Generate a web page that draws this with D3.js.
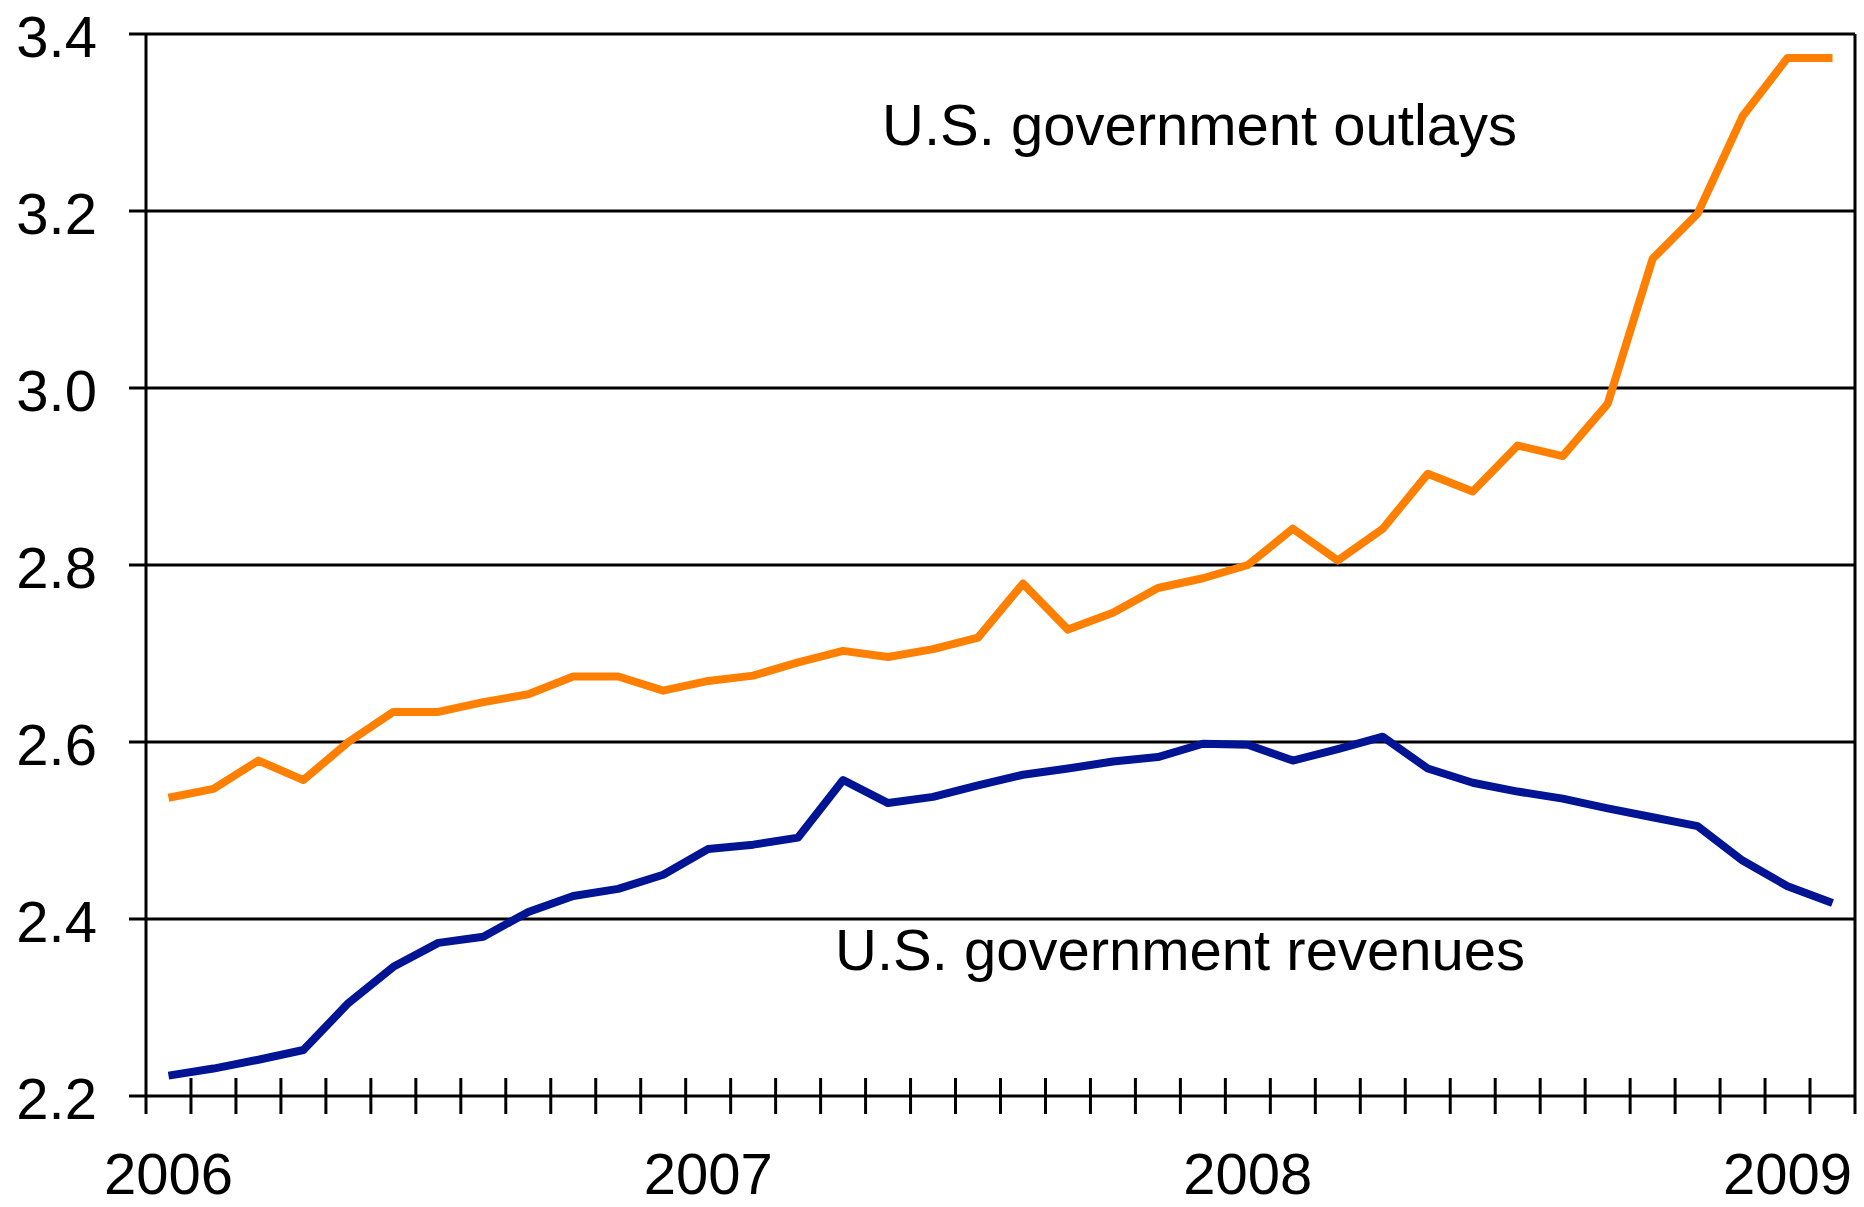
<!DOCTYPE html>
<html lang="en">
<head>
<meta charset="UTF-8">
<title>U.S. government outlays and revenues</title>
<script src="https://d3js.org/d3.v7.min.js"></script>
<style>
  body { margin: 0; background: #fff; }
  text { font-family: "Liberation Sans", Arial, sans-serif; fill: #000; }
</style>
</head>
<body>
<script>
// monthly values, Jan 2006 .. Feb 2009 (trillions of dollars)
var months = d3.range(38).map(function(i){ return new Date(2006, i, 1); });

var outlays = [2.537, 2.547, 2.579, 2.557, 2.600, 2.634, 2.634, 2.645, 2.654, 2.674,
               2.674, 2.658, 2.669, 2.675, 2.690, 2.703, 2.696, 2.705, 2.718, 2.779,
               2.727, 2.746, 2.774, 2.785, 2.800, 2.841, 2.805, 2.841, 2.903, 2.883,
               2.935, 2.923, 2.982, 3.146, 3.197, 3.307, 3.373, 3.373];

var revenues = [2.223, 2.231, 2.241, 2.252, 2.305, 2.346, 2.373, 2.380, 2.408, 2.426,
                2.434, 2.450, 2.479, 2.484, 2.492, 2.557, 2.531, 2.538, 2.551, 2.563,
                2.570, 2.578, 2.583, 2.598, 2.597, 2.579, 2.592, 2.606, 2.570, 2.554,
                2.544, 2.536, 2.525, 2.515, 2.505, 2.466, 2.437, 2.418];

var yTicks = [2.2, 2.4, 2.6, 2.8, 3.0, 3.2, 3.4];
var yearLabels = ["2006", "2007", "2008", "2009"];

var W = 1864, H = 1207;
var plotL = 146, plotR = 1855, plotT = 34, plotB = 1096;

var svg = d3.select("body").append("svg")
	.attr("width", W).attr("height", H);

// index scale: one slot per month, ticks on the slot edges
var xi = d3.scaleLinear().domain([0, months.length]).range([plotL, plotR]);
var y = d3.scaleLinear().domain([2.2, 3.4]).range([plotB, plotT]);

// horizontal grid lines (and the base line) with a short outward tick
svg.append("g").selectAll("line").data(yTicks).enter()
	.append("line")
	.attr("x1", plotL - 17).attr("x2", plotR)
	.attr("y1", function(d){ return y(d); })
	.attr("y2", function(d){ return y(d); })
	.style("stroke", "#000").style("stroke-width", 3);

// y labels
svg.append("g").selectAll("text").data(yTicks).enter()
	.append("text")
	.attr("x", 97)
	.attr("y", function(d){ return y(d) + 23; })
	.attr("text-anchor", "end")
	.attr("font-size", "58px")
	.text(function(d){ return d.toFixed(1); });

// frame sides
[0, months.length].forEach(function(i){
	svg.append("line")
		.attr("x1", xi(i)).attr("x2", xi(i))
		.attr("y1", plotT).attr("y2", plotB + 18)
		.style("stroke", "#000").style("stroke-width", 3);
});

// month ticks crossing the base line
svg.append("g").selectAll("line").data(d3.range(1, months.length)).enter()
	.append("line")
	.attr("x1", function(d){ return xi(d); })
	.attr("x2", function(d){ return xi(d); })
	.attr("y1", plotB - 18).attr("y2", plotB + 18)
	.style("stroke", "#000").style("stroke-width", 3);

// year labels at the centre of each January slot
svg.append("g").selectAll("text").data(yearLabels).enter()
	.append("text")
	.attr("x", function(d, i){ return xi(i * 12 + 0.5); })
	.attr("y", 1194)
	.attr("text-anchor", "middle")
	.attr("font-size", "58px")
	.text(function(d){ return d; });

var line = d3.line()
	.x(function(d, i){ return xi(i + 0.5); })
	.y(function(d){ return y(d); });

svg.append("path").datum(outlays)
	.attr("d", line)
	.style("fill", "none")
	.style("stroke", "#ff7f00")
	.style("stroke-width", 8)
	.style("stroke-linejoin", "round");

svg.append("path").datum(revenues)
	.attr("d", line)
	.style("fill", "none")
	.style("stroke", "#001494")
	.style("stroke-width", 8)
	.style("stroke-linejoin", "round");

svg.append("text")
	.attr("x", 882).attr("y", 145)
	.attr("font-size", "58px")
	.text("U.S. government outlays");

svg.append("text")
	.attr("x", 835).attr("y", 970)
	.attr("font-size", "58px")
	.text("U.S. government revenues");
</script>
</body>
</html>
